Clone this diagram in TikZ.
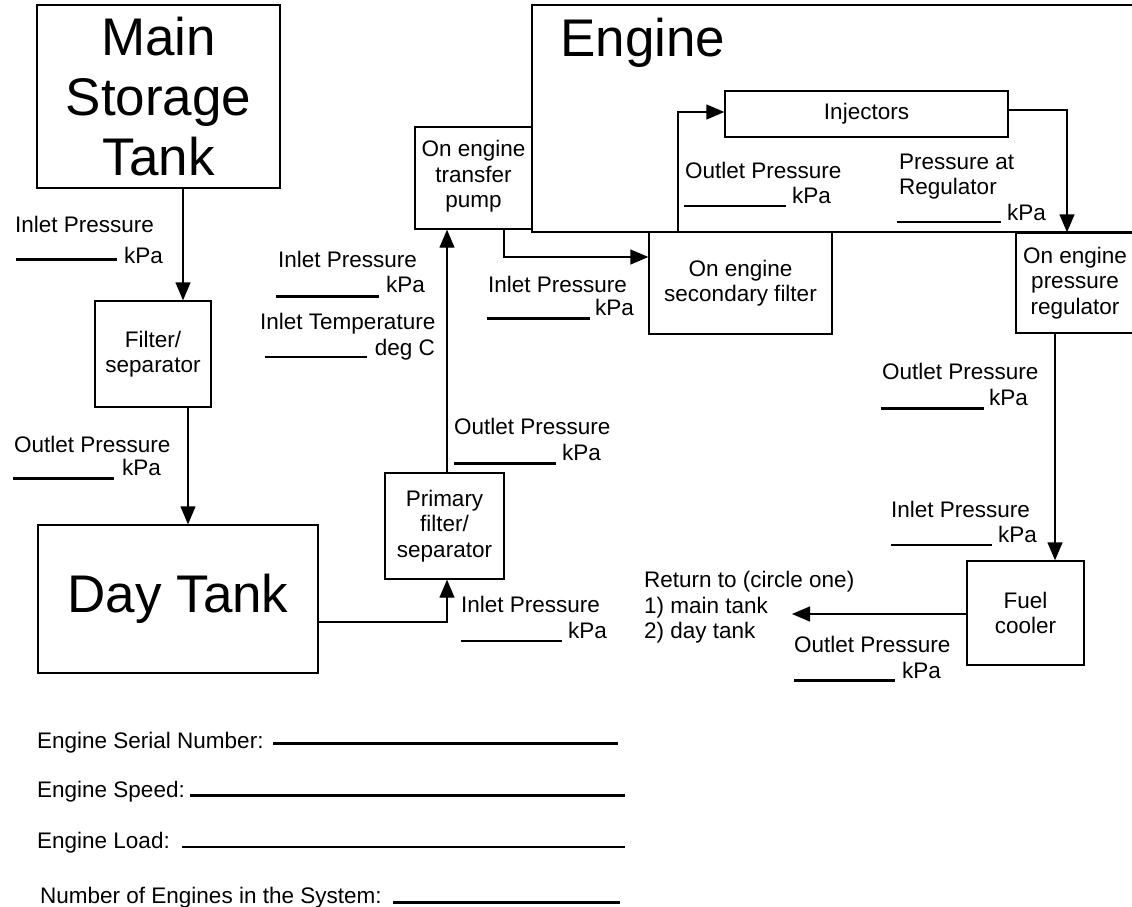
\documentclass[tikz,border=0pt]{standalone}
\usepackage{fontspec}
\setmainfont{Liberation Sans}
\usetikzlibrary{arrows.meta}
\begin{document}
\begin{tikzpicture}[x=1pt,y=-1pt,
  txt/.style={font=\fontsize{22.5}{25.5}\selectfont, inner sep=0pt},
  box/.style={draw, line width=1.4pt, inner sep=0pt, align=center, font=\fontsize{22.5}{25.5}\selectfont},
  bigbox/.style={box, font=\fontsize{53}{60}\selectfont},
  flow/.style={line width=1.4pt, -{Triangle[length=18pt,width=15pt]}},
  fillin/.style={line width=3pt},
  fillthin/.style={line width=1.5pt}]
\useasboundingbox (0,0) rectangle (1132,907);
\clip (0,0) rectangle (1132,907);

% boxes
\node[bigbox, minimum width=243pt, minimum height=183pt] (mst) at (158.5,96.5) {Main\\Storage\\Tank};
\node[box, minimum width=116pt, minimum height=106pt] (fs) at (153,354) {Filter/\\separator};
\node[bigbox, minimum width=280pt, minimum height=148pt] (day) at (178,599) {Day Tank};
\node[box, minimum width=117pt, minimum height=102pt, text depth=8pt] (pump) at (473.5,178) {On engine\\transfer\\pump};
\node[box, minimum width=608pt, minimum height=227pt] (eng) at (836,118.5) {};
\node[txt, font=\fontsize{53}{60}\selectfont, anchor=base west] (engl) at (560,57) {Engine};
\node[box, minimum width=283pt, minimum height=46pt] (inj) at (866.5,114) {Injectors};
\node[box, minimum width=183pt, minimum height=102pt] (sec) at (740.5,283) {On engine\\secondary filter};
\node[box, minimum width=118pt, minimum height=100pt] (reg) at (1075,283) {On engine\\pressure\\regulator};
\node[box, minimum width=119pt, minimum height=106pt] (prim) at (444.5,526) {Primary\\filter/\\separator};
\node[box, minimum width=117pt, minimum height=104pt] (cool) at (1025.5,613) {Fuel\\cooler};

% connectors
\coordinate (k1) at (183,0);
\draw[flow] (mst.south -| k1) -- (fs.north -| k1);
\coordinate (k2) at (188,0);
\draw[flow] (fs.south -| k2) -- (day.north -| k2);
\coordinate (k3) at (447,622);
\draw[flow] (day.east |- k3) -- (k3) -- (prim.south -| k3);
\draw[flow] (prim.north -| k3) -- (pump.south -| k3);
\coordinate (k4) at (504,257);
\draw[flow] (pump.south -| k4) -- (k4) -- (sec.west |- k4);
\coordinate (k5) at (678,112);
\draw[flow] (sec.north -| k5) -- (k5) -- (inj.west |- k5);
\coordinate (k6) at (1067,110);
\draw[flow] (inj.east |- k6) -- (k6) -- (reg.north -| k6);
\coordinate (k7) at (1055,0);
\draw[flow] (reg.south -| k7) -- (cool.north -| k7);
\coordinate (ret) at (792,614);
\draw[flow] (cool.west |- ret) -- (ret);

% measurement labels
\node[txt, anchor=base west] (a1) at (15,232) {Inlet Pressure};
\node[txt, anchor=base east] (a2) at (163,263) {kPa};
\draw[fillin] (16,259) -- (117,259);

\node[txt, anchor=base west] (b1) at (14,452) {Outlet Pressure};
\node[txt, anchor=base east] (b2) at (161,475) {kPa};
\draw[fillin] (13,478) -- (114,478);

\node[txt, anchor=base west] (c1) at (278,267) {Inlet Pressure};
\node[txt, anchor=base east] (c2) at (425,292) {kPa};
\draw[fillin] (276,296) -- (379,296);

\node[txt, anchor=base west] (d1) at (260,329) {Inlet Temperature};
\node[txt, anchor=base east] (d2) at (435,355) {deg C};
\draw[fillthin] (265,357) -- (367,357);

\node[txt, anchor=base west] (e1) at (454,434) {Outlet Pressure};
\node[txt, anchor=base east] (e2) at (601,460) {kPa};
\draw[fillin] (454,463) -- (556,463);

\node[txt, anchor=base west] (f1) at (461,612) {Inlet Pressure};
\node[txt, anchor=base east] (f2) at (607,638) {kPa};
\draw[fillthin] (461,641) -- (562,641);

\node[txt, anchor=base west] (g1) at (488,292) {Inlet Pressure};
\node[txt, anchor=base east] (g2) at (634,315) {kPa};
\draw[fillin] (487,318) -- (590,318);

\node[txt, anchor=base west] (h1) at (685,178) {Outlet Pressure};
\node[txt, anchor=base east] (h2) at (831,203) {kPa};
\draw[fillthin] (684,206) -- (786,206);

\node[txt, anchor=base west] (i1) at (899,169) {Pressure at};
\node[txt, anchor=base west] (i2) at (899,194) {Regulator};
\node[txt, anchor=base east] (i3) at (1046,220) {kPa};
\draw[fillthin] (897,222) -- (1001,222);

\node[txt, anchor=base west] (j1) at (882,379) {Outlet Pressure};
\node[txt, anchor=base east] (j2) at (1028,405) {kPa};
\draw[fillin] (881,408) -- (984,408);

\node[txt, anchor=base west] (m1) at (891,517) {Inlet Pressure};
\node[txt, anchor=base east] (m2) at (1037,542) {kPa};
\draw[fillthin] (891,545) -- (992,545);

\node[txt, anchor=base west] (r1) at (644,587) {Return to (circle one)};
\node[txt, anchor=base west] (r2) at (644,613) {1) main tank};
\node[txt, anchor=base west] (r3) at (644,638) {2) day tank};

\node[txt, anchor=base west] (o1) at (794,652) {Outlet Pressure};
\node[txt, anchor=base east] (o2) at (941,678) {kPa};
\draw[fillin] (794,680) -- (895,680);

% bottom form
\node[txt, anchor=base west] (s1) at (37,748) {Engine Serial Number:};
\draw[fillin] (273,743) -- (618,743);
\node[txt, anchor=base west] (s2) at (37,797) {Engine Speed:};
\draw[fillin] (190,795) -- (625,795);
\node[txt, anchor=base west] (s3) at (37,848) {Engine Load:};
\draw[fillthin] (182,847) -- (625,847);
\node[txt, anchor=base west] (s4) at (40,903) {Number of Engines in the System:};
\draw[fillin] (393,902) -- (620,902);
\end{tikzpicture}
\end{document}
